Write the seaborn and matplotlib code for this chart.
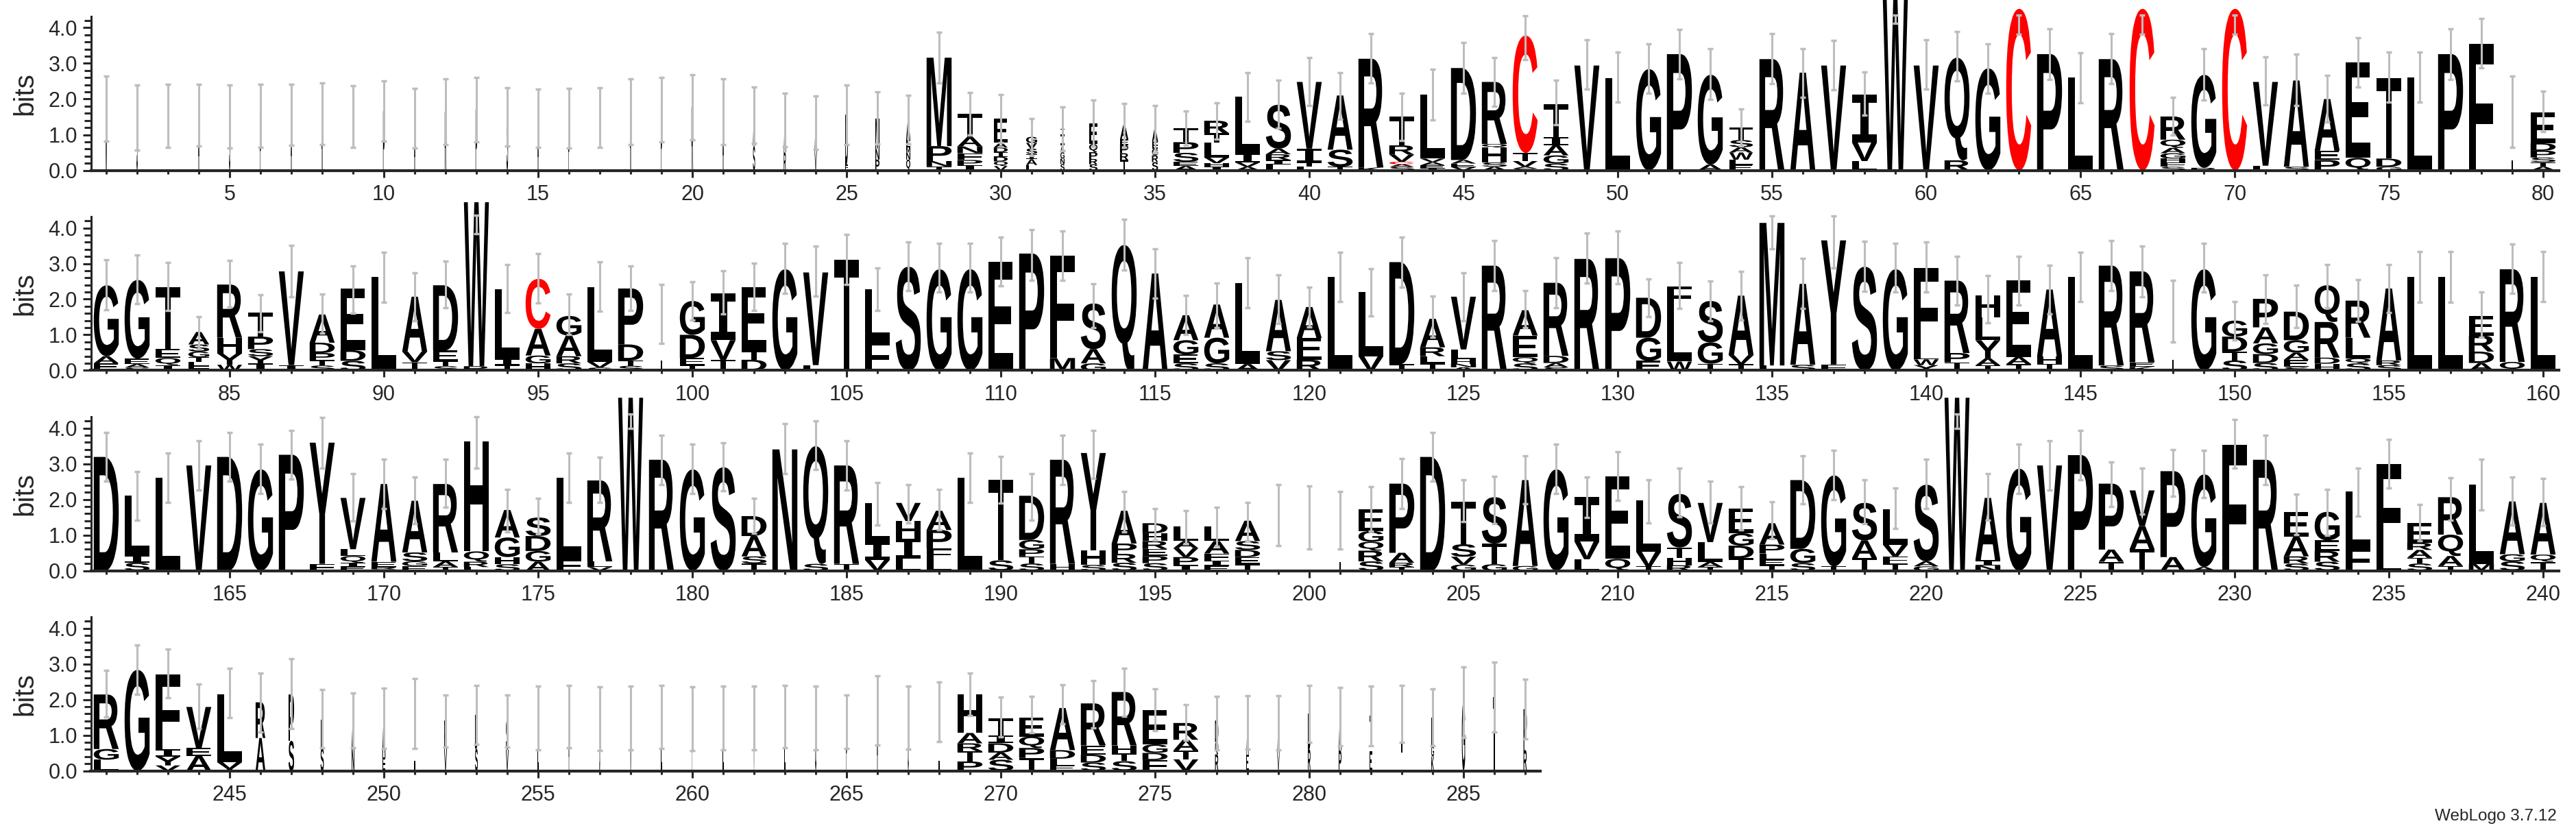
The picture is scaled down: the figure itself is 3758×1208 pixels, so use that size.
import numpy as np
import matplotlib
matplotlib.use("Agg")
import matplotlib.pyplot as plt
import seaborn as sns
from matplotlib.textpath import TextPath
from matplotlib.font_manager import FontProperties
from matplotlib.patches import PathPatch
from matplotlib.transforms import Affine2D

# sequence logo data: letters per column listed top -> bottom, heights in bits
positions = np.arange(1, 288)

letters = [
    # 1-40
    "M", "S", "T", "A", "S", "P", "A", "R", "T", "P",
    "A", "R", "P", "S", "A", "P", "T", "R", "P", "R",
    "A", "AS", "AR", "AV", "DE", "MNP", "AEMNQ", "MPNT", "TANFPI", "EADIDQV",
    "GVSIAL", "TIAGNS", "EQPRS", "AEPRT", "AEGRS", "TPSEA", "RTLVHI", "LIVA", "SARIL", "VITL",
    # 41-80
    "AST", "RK", "TRVCAS", "LVAEI", "DAEV", "RQHSA", "CTVAS", "TIAGS", "V", "L",
    "G", "P", "GA", "TSAWLE", "R", "A", "V", "IVL", "W", "V",
    "QR", "G", "C", "P", "L", "R", "C", "RQAGHFS", "GR", "C",
    "VL", "AS", "AEP", "EQ", "TDG", "L", "P", "F", "I", "EDPSTA",
    # 81-120
    "GAE", "GEAS", "TEQI", "ASGTLF", "RHYW", "TPSYI", "VI", "ADPTS", "EDS", "L",
    "AVT", "DETS", "WR", "LIT", "CAGH", "GARS", "LVS", "PDTS", "I", "GDET",
    "IVT", "ETD", "G", "VL", "T", "LF", "S", "G", "G", "E",
    "P", "FM", "SAG", "Q", "A", "AGES", "AGS", "LA", "ASV", "AER",
    # 121-160
    "L", "LV", "DT", "ARLT", "VLHNA", "R", "AEQS", "RDAS", "R", "P",
    "DGE", "FLW", "SGT", "AVT", "ML", "AS", "YF", "S", "G", "FLWY",
    "RPT", "HLYAT", "EAT", "AHT", "L", "RS", "REK", "I", "G", "GDTS",
    "PAGDS", "DGAES", "QRDH", "RLQS", "ARS", "L", "L", "ERDA", "RQ", "L",
    # 161-200
    "D", "LIS", "L", "V", "D", "G", "P", "YF", "VLQIE", "AERS",
    "ASGE", "RLAT", "HQRL", "AGHS", "SDGA", "LF", "RLV", "W", "R", "G",
    "S", "DAST", "N", "QS", "RT", "LIV", "VHIL", "APFL", "L", "TS",
    "DGPTS", "RH", "YHS", "APRS", "DHREPS", "LAVPI", "LAFIE", "ASDET", "I", "I",
    # 201-240
    "I", "EGQRS", "PART", "D", "TSVG", "STG", "AG", "G", "IVL", "EQ",
    "LVT", "STHR", "VLAT", "EGDT", "APLET", "DGS", "GT", "SAT", "LVFT", "SAG",
    "W", "AIN", "G", "V", "P", "PAT", "VAT", "PA", "GA", "F",
    "R", "EARS", "GERS", "LF", "FL", "ERATS", "RQAT", "LM", "AGS", "AQT",
    # 241-287
    "RGL", "G", "FIYV", "VEA", "LVT", "RA", "PS", "LS", "AN", "AE",
    "I", "RV", "DS", "SV", "L", "A", "D", "N", "L", "P",
    "E", "V", "L", "G", "P", "A", "G", "I", "HARTP", "TIDAS",
    "EQPT", "ADLE", "REDS", "RHTS", "EGDF", "RATV", "DQR", "AE", "AV", "DR",
    "AP", "TE", "IT", "EGK", "G", "T", "PR",
]

heights = [
    # 1-40
    [1.73], [1.48], [1.53], [1.55], [1.51], [1.53], [1.56], [1.59], [1.51], [1.66],
    [1.46], [1.64], [1.70], [1.50], [1.46], [1.46], [1.48], [1.64], [1.70], [1.77],
    [1.64], [.87, .68], [.92, .5], [.84, .5], [1.4, .16], [.85, .3, .3],
    [.55, .2, .15, .2, .3], [2.48, .42, .15, .11], [.65, .26, .19, .19, .15, .14],
    [.68, .13, .13, .13, .13, .13, .12],
    [.17, .16, .15, .15, .16, .15], [.15, .3, .2, .18, .15, .18], [.58, .23, .19, .15, .17],
    [.39, .16, .23, .19, .29], [.35, .19, .19, .19, .23], [.4, .3, .25, .12, .12],
    [.35, .26, .42, .16, .1, .1], [1.58, .26, .12, .1], [1.23, .16, .16, .12, .17],
    [1.87, .39, .12, .1],
    # 41-80
    [1.52, .48, .1], [3.05, .08], [.8, .26, .2, .07, .07, .1], [1.8, .1, .09, .08, .06],
    [2.58, .1, .1, .09], [1.74, .1, .42, .12, .1], [3.29, .23, .16, .05, .05],
    [.92, .22, .29, .23, .19], [2.94], [2.58],
    [2.84], [3.26], [2.52, .16], [.35, .2, .15, .2, .15, .15], [3.12], [2.74], [2.94],
    [1.35, .52, .26], [4.8], [2.94],
    [2.88, .28], [2.86], [4.53], [3.26], [2.61], [3.12], [4.53],
    [.65, .23, .15, .15, .1, .13, .1], [2.61, .07], [4.53],
    [2.35, .13], [2.42, .1], [1.45, .26, .29], [2.68, .35], [2.26, .23, .1], [2.6],
    [3.26], [3.55], [1.65], [.87, .21, .19, .13, .13, .1],
    # 81-120
    [1.99, .2, .2], [2.21, .15, .1, .08], [1.73, .25, .2, .15], [.35, .2, .16, .13, .12, .12],
    [1.49, .44, .32, .16], [.67, .35, .2, .2, .2], [2.63, .15], [.79, .29, .2, .15, .14],
    [1.73, .3, .27], [2.62],
    [1.54, .3, .23], [1.83, .29, .15, .12], [4.6, .12], [1.93, .2, .14], [1.4, .75, .22, .2],
    [.55, .58, .2, .2], [2.09, .16, .08], [1.57, .45, .15, .13], [1.58], [.95, .65, .2, .15],
    [1.32, .55, .3], [1.77, .26, .3], [2.84], [2.6, .15], [3.11], [1.44, .83], [2.91],
    [2.84], [2.84], [3.05],
    [3.28], [2.87, .35], [1.28, .4, .2], [3.52], [2.72], [.7, .4, .25, .2], [.93, .72, .2],
    [2.28, .18], [1.44, .25, .29], [.87, .61, .3],
    # 121-160
    [2.62], [1.8, .4], [2.86, .18], [.8, .25, .2, .2], [1.48, .28, .12, .1, .09], [2.94],
    [.71, .61, .17, .2], [2.05, .2, .12, .09], [3.13], [3.15],
    [1.12, .65, .27], [.55, 1.56, .25], [1.16, .6, .19], [1.67, .25, .18], [4.0, .14],
    [2.27, .16], [3.48, .17], [2.91], [2.84], [2.37, .2, .16, .15],
    [2.03, .26, .23], [.61, .64, .51, .2, .14], [2.14, .2, .18], [1.88, .2, .19], [2.62],
    [2.8, .14], [2.55, .13, .1], [1.66], [2.84], [.45, .42, .25, .28],
    [.8, .45, .3, .25, .21], [.8, .35, .2, .2, .1], [1.03, 1.0, .17, .19], [1.04, .58, .14, .2],
    [2.02, .13, .15], [2.62], [2.62], [.55, .45, .32, .21], [2.6, .24], [2.62],
    # 161-200
    [3.19], [1.66, .22, .22], [2.6], [2.95], [3.19], [2.84], [3.25], [3.4, .19],
    [1.44, .19, .19, .12, .1], [2.18, .16, .05, .04],
    [1.45, .25, .13, .13], [1.92, .25, .16, .1], [3.08, .29, .15, .1], [.77, .55, .2, .18],
    [.52, .42, .3, .25], [2.29, .31], [2.27, .16, .1], [4.85], [3.11], [2.84],
    [2.9], [.56, .57, .2, .2], [3.4], [3.3, .19], [2.76, .19], [1.1, .5, .3],
    [.51, .5, .55, .34], [.54, .52, .3, .32], [2.6], [2.25, .29],
    [1.24, .26, .2, .2, .2], [2.92, .19], [2.73, .41, .16], [.92, .29, .25, .22],
    [.28, .22, .22, .2, .2, .21], [.41, .2, .25, .22, .16], [.41, .35, .2, .15, .13],
    [.57, .25, .2, .2, .18], [1.56], [1.49],
    # 201-240
    [1.42], [.62, .3, .25, .3, .26], [1.94, .28, .12, .1], [3.19], [1.2, .35, .22, .17],
    [1.3, .58, .18], [2.41, .13], [2.84], [1.24, .5, .32], [2.32, .33],
    [1.44, .41, .12], [1.5, .3, .2, .15], [1.1, .56, .14, .1], [.7, .35, .35, .35],
    [.6, .25, .18, .15, .15], [1.93, .4, .21], [2.55, .12], [1.05, .5, .35],
    [1.0, .33, .2, .2], [2.15, .14, .12],
    [4.85], [1.75, .15, .14], [2.86], [2.95], [3.24], [1.85, .34, .25], [1.0, .65, .6],
    [2.41, .38], [2.6, .1], [3.52],
    [3.11], [.7, .55, .2, .2], [.8, .3, .3, .25], [1.6, .62], [2.63, .37],
    [.55, .2, .22, .16, .2], [1.05, .6, .28, .13], [2.22, .19], [1.48, .2, .26], [1.45, .2, .25],
    # 241-287
    [1.53, .3, .31], [2.83], [2.1, .2, .25, .15], [1.15, .22, .42], [1.9, .19, .05],
    [1.0, .92], [1.3, .84], [.8, .64], [.8, .64], [1.1, .37],
    [1.6], [.82, .59], [.95, .62], [.82, .59], [1.48], [1.52], [1.46], [1.48], [1.51], [1.46],
    [1.48], [1.48], [1.52], [1.48], [1.37], [1.7], [1.49], [1.65],
    [1.08, .29, .22, .29, .26], [.48, .22, .26, .2, .31],
    [.54, .32, .28, .36], [1.18, .24, .2, .14], [1.18, .26, .22, .23], [1.5, .22, .22, .27],
    [.96, .24, .2, .3], [.47, .3, .25, .32], [.6, .35, .46], [.9, .46], [.9, .44], [1.0, .6],
    [.95, .57], [1.0, .54], [1.0, .6], [.8, .3, .4], [1.92], [2.07], [1.15, .58],
]

# fraction of the column occupied (gappy columns are drawn narrow)
col_width = (
    [.05] * 9 + [.06, .05, .06, .06, .06, .05, .05, .05, .05, .05, .06, .05]
    + [.08, .08, .08, .1, .15, .15, .9, .9, .5, .4, .15, .3, .3, .22]
    + [.9] * 18 + [.85] + [.9] * 24 + [.05, .9]
    + [.9, .9, .9, .75] + [.9] * 14 + [.06] + [.9] * 48 + [.05] + [.9] * 12
    + [.9] * 38 + [.02, .02, .03] + [.9] * 39
    + [.9] * 5 + [.35, .2, .12, .1, .12, .06, .1, .1, .1] + [.03] * 9
    + [.05, .04, .04, .04, .04] + [.9] * 8
    + [.12, .08, .08, .1, .1, .08, .06, .1, .12, .12, .12]
)

err_mid = [
    1.73, 1.48, 1.53, 1.55, 1.51, 1.53, 1.56, 1.59, 1.51, 1.66,
    1.46, 1.64, 1.70, 1.50, 1.46, 1.46, 1.48, 1.64, 1.70, 1.77,
    1.64, 1.55, 1.42, 1.34, 1.56, 1.48, 1.42, 3.16, 1.59, 1.45,
    .94, 1.16, 1.32, 1.26, 1.16, 1.19, 1.38, 2.06, 1.85, 2.49,
    2.09, 3.14, 1.5, 2.13, 2.88, 2.48, 3.72, 1.9, 2.97, 2.61,
    2.86, 3.26, 2.7, 1.2, 3.13, 2.73, 2.95, 2.15, 4.24, 2.97,
    3.2, 2.86, 4.08, 3.26, 2.6, 3.13, 4.08, 1.52, 2.7, 4.08,
    2.51, 2.54, 2.01, 3.03, 2.62, 2.61, 3.26, 3.57, 1.65, 1.65,
    2.4, 2.56, 2.35, 1.06, 2.43, 1.61, 2.79, 1.59, 2.27, 2.61,
    2.07, 2.41, 4.1, 2.3, 2.59, 1.57, 2.35, 2.31, 1.58, 1.96,
    2.19, 2.35, 2.86, 2.79, 3.12, 2.28, 2.92, 2.88, 2.88, 3.06,
    3.24, 3.22, 1.82, 3.53, 2.72, 1.56, 1.83, 2.46, 2.0, 1.78,
    2.62, 2.19, 3.04, 1.51, 2.07, 2.95, 1.73, 2.46, 3.15, 3.17,
    2.04, 2.38, 1.95, 2.1, 3.88, 2.44, 3.61, 2.92, 2.88, 2.91,
    2.52, 2.0, 2.52, 2.27, 2.62, 2.95, 2.78, 1.66, 2.88, 1.4,
    2.0, 1.8, 2.36, 1.96, 2.3, 2.62, 2.62, 1.57, 2.86, 2.63,
    3.19, 2.1, 2.61, 2.95, 3.19, 2.85, 3.25, 3.59, 2.06, 2.44,
    1.97, 2.45, 3.59, 1.68, 1.52, 2.61, 2.55, 4.2, 3.11, 2.86,
    2.92, 1.54, 3.42, 3.52, 2.95, 1.88, 1.87, 1.71, 2.61, 2.55,
    2.07, 3.11, 3.26, 1.65, 1.3, 1.22, 1.23, 1.37, 1.56, 1.49,
    1.42, 1.73, 2.44, 3.19, 1.96, 1.98, 2.55, 2.86, 2.06, 2.65,
    1.94, 2.19, 1.92, 1.75, 1.42, 2.55, 2.69, 1.93, 1.75, 2.44,
    4.2, 2.07, 2.85, 2.95, 3.24, 2.42, 2.23, 2.74, 2.71, 3.56,
    3.1, 1.58, 1.63, 2.2, 3.0, 1.35, 2.01, 2.42, 1.95, 1.92,
    2.16, 2.84, 2.73, 1.81, 2.18, 1.92, 2.16, 1.46, 1.42, 1.47,
    1.61, 1.4, 1.57, 1.4, 1.48, 1.52, 1.46, 1.48, 1.51, 1.46,
    1.48, 1.48, 1.52, 1.48, 1.37, 1.7, 1.49, 1.65, 2.14, 1.51,
    1.57, 1.86, 1.86, 2.2, 1.71, 1.36, 1.34, 1.36, 1.34, 1.6,
    1.52, 1.54, 1.6, 1.5, 1.92, 2.07, 1.73,
]

err_half = [
    .92, .91, .88, .87, .88, .88, .86, .87, .87, .84,
    .83, .92, .91, .82, .81, .84, .83, .92, .91, .91,
    .92, .79, .75, .75, .84, .73, .68, .71, .59, .68,
    .52, .61, .66, .61, .66, .48, .51, .68, .67, .67,
    .65, .69, .67, .71, .71, .69, .62, .62, .69, .7,
    .69, .7, .71, .52, .7, .69, .7, .6, .12, .69,
    .7, .69, .27, .71, .7, .7, .27, .52, .72, .27,
    .68, .72, .65, .69, .7, .7, .71, .69, 1.0, .57,
    .7, .69, .67, .45, .66, .52, .72, .55, .67, .7,
    .67, .66, .26, .67, .69, .57, .69, .63, .83, .54,
    .6, .66, .7, .7, .7, .6, .68, .68, .68, .69,
    .71, .69, .61, .72, .69, .55, .62, .71, .68, .55,
    .69, .66, .71, .58, .68, .7, .52, .71, .7, .74,
    .53, .64, .56, .68, .46, .7, .73, .7, .68, .7,
    .68, .67, .69, .69, .69, .7, .71, .87, .68, .54,
    .68, .6, .61, .59, .68, .71, .71, .63, .69, .7,
    .68, .68, .69, .69, .68, .69, .69, .71, .66, .69,
    .65, .67, .72, .6, .5, .69, .64, .2, .69, .69,
    .67, .49, .7, .69, .69, .6, .54, .57, .69, .65,
    .66, .69, .68, .57, .44, .46, .55, .54, .86, .89,
    .81, .62, .7, .68, .59, .66, .68, .69, .57, .68,
    .6, .68, .59, .6, .52, .68, .69, .61, .57, .69,
    .2, .66, .69, .69, .69, .63, .64, .66, .67, .69,
    .69, .57, .64, .67, .68, .51, .6, .71, .68, .66,
    .65, .69, .68, .62, .69, .83, .98, .82, .77, .84,
    .98, .73, .83, .73, .89, .87, .9, .89, .88, .9,
    .89, .89, .87, .89, .75, .97, .89, .84, .6, .55,
    .51, .55, .66, .68, .59, .5, .75, .75, .76, .8,
    .82, .83, .8, .79, .99, .98, .84,
]

sns.set_theme(style="ticks")
plt.rcParams['font.family'] = ['Liberation Sans', 'DejaVu Sans']

glyph_font = FontProperties(family='Liberation Sans', weight='bold')
serif_i_font = FontProperties(family='DejaVu Sans Mono', weight='bold')  # I with bars
glyphs = {}


def unit_glyph(ch):
    # letter outline squeezed into the unit square
    if ch not in glyphs:
        prop = serif_i_font if ch == 'I' else glyph_font
        tp = TextPath((0, 0), ch, size=1, prop=prop)
        ext = tp.get_extents()
        tr = Affine2D().translate(-ext.x0, -ext.y0).scale(1 / ext.width, 1 / ext.height)
        glyphs[ch] = tr.transform_path(tp)
    return glyphs[ch]


def draw_stack(ax, x, chars, hs, frac):
    w = 0.9 * frac
    y0 = 0.0
    for ch, h in zip(chars[::-1], hs[::-1]):
        if h > 0.005:
            path = Affine2D().scale(w, h).translate(x - w / 2, y0).transform_path(unit_glyph(ch))
            color = '#ff0000' if ch == 'C' else 'black'
            ax.add_patch(PathPatch(path, facecolor=color, edgecolor='none', lw=0,
                                   clip_on=False, zorder=2))
        y0 += h


fig = plt.figure(figsize=(37.58, 12.08), dpi=100)
W, H = 3758.0, 1208.0
x_left = 132.5 / W
pos_w = 45.0 / W
zero_px = [248.5, 540.5, 832.5, 1124.5]
bit_px = 52.0
ymax = 4.32

for r in range(4):
    start = 80 * r + 1
    stop = min(start + 79, 287)
    n = stop - start + 1
    ax = fig.add_axes([x_left, 1 - zero_px[r] / H, n * pos_w, ymax * bit_px / H])
    ax.set_xlim(start - 0.5, stop + 0.5)
    ax.set_ylim(0, ymax)

    for p in range(start, stop + 1):
        i = p - 1
        draw_stack(ax, positions[i], letters[i], heights[i], col_width[i])

    sl = slice(start - 1, stop)
    eb = ax.errorbar(positions[sl], err_mid[sl], yerr=err_half[sl], fmt='none',
                     ecolor='#bdbdbd', elinewidth=2.2, capsize=2.8, capthick=2.5, zorder=4)
    for art in list(eb.lines[1]) + list(eb.lines[2]):
        art.set_clip_on(False)

    sns.despine(ax=ax)
    ax.spines['left'].set_linewidth(2.2)
    ax.spines['bottom'].set_linewidth(3)
    ax.grid(False)

    ax.set_xticks([p for p in range(start, stop + 1) if p % 5 == 0])
    ax.set_xticks(range(start, stop + 1), minor=True)
    ax.set_yticks([0, 1, 2, 3, 4])
    ax.set_yticklabels(['0.0', '1.0', '2.0', '3.0', '4.0'])
    ax.set_yticks(np.arange(0, 4.3, 0.2), minor=True)
    ax.tick_params(axis='x', which='major', direction='out', length=7, width=2.2,
                   pad=8, labelsize=22)
    ax.tick_params(axis='x', which='minor', direction='out', length=3.6, width=2.2)
    ax.tick_params(axis='y', which='major', direction='out', length=9, width=2.2,
                   pad=5, labelsize=22)
    ax.tick_params(axis='y', which='minor', direction='out', length=7.5, width=2.2)

    yc = 1 - (zero_px[r] - ymax * bit_px / 2) / H
    fig.text(36 / W, yc, 'bits', rotation=90, ha='center', va='center', fontsize=29)

fig.text(3730 / W, 17 / H, 'WebLogo 3.7.12', ha='right', va='center', fontsize=17.5)

fig.savefig('out.png', dpi=100)
